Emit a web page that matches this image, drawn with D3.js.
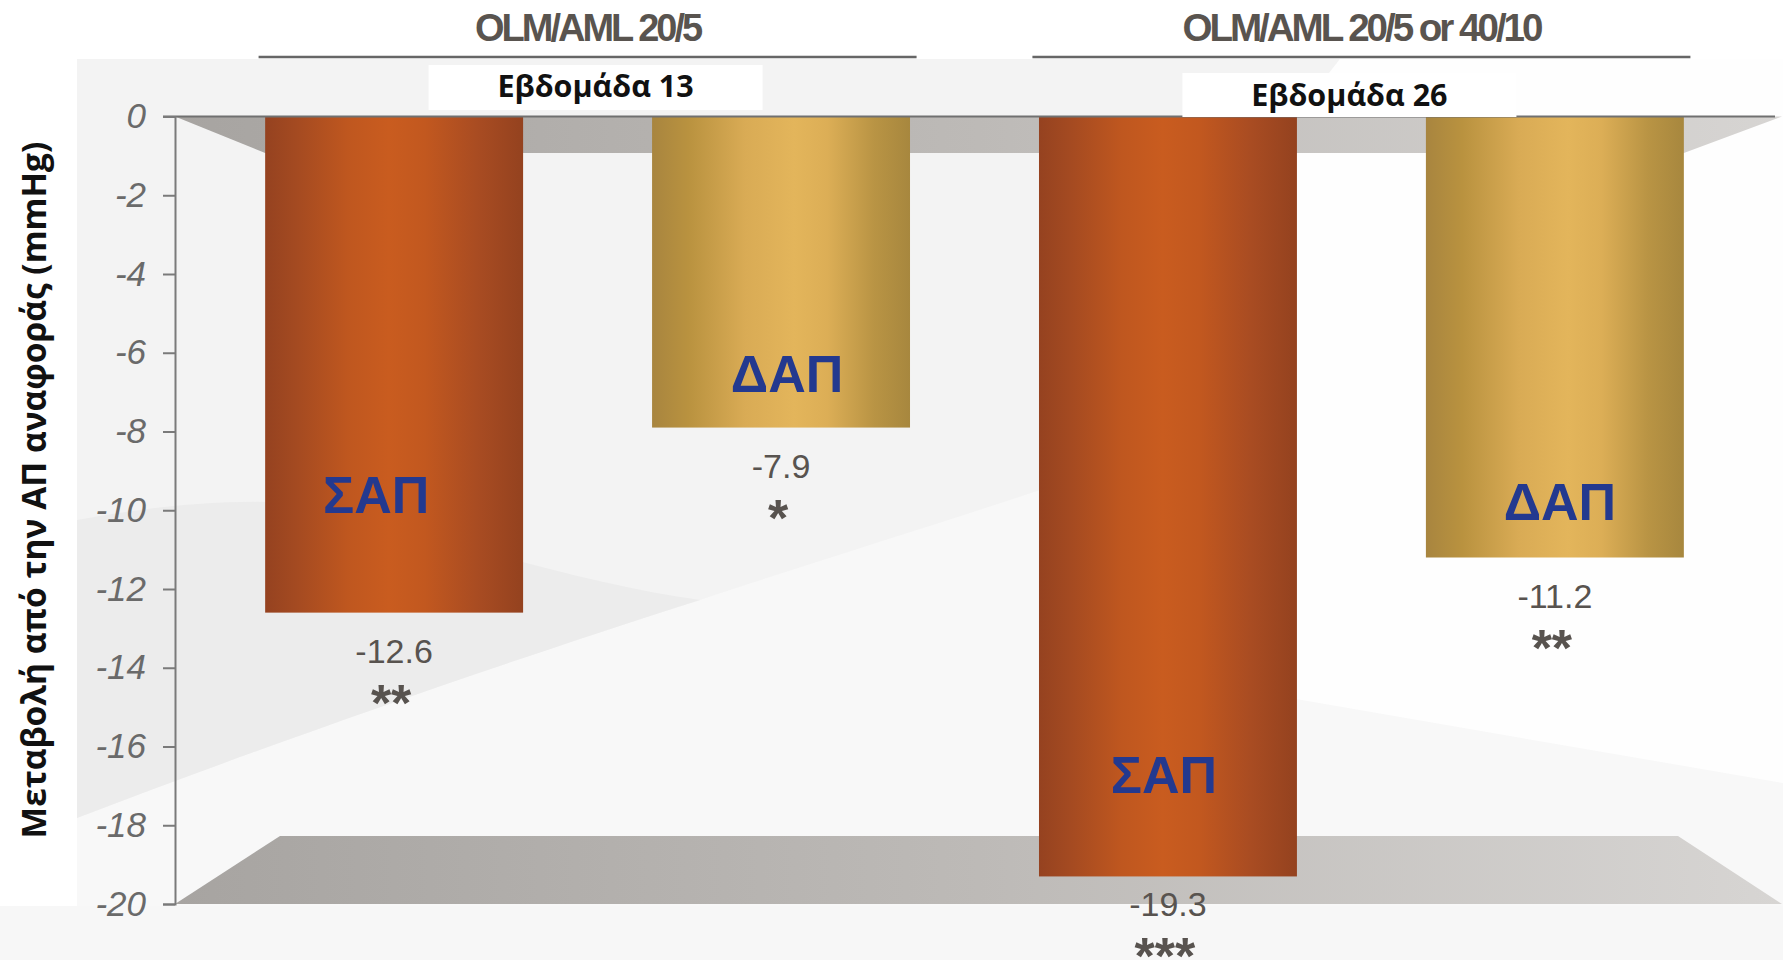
<!DOCTYPE html>
<html>
<head>
<meta charset="utf-8">
<script src="https://cdn.jsdelivr.net/npm/d3@7/dist/d3.min.js"></script>
<style>
  html, body { margin: 0; padding: 0; background: #ffffff; }
  svg { display: block; }
</style>
</head>
<body>
<svg id="chart" width="1783" height="960"></svg>
<script>
// ---- data ----
const groups = ["OLM/AML 20/5", "OLM/AML 20/5 or 40/10"];
const weekLabels = ["Εβδομάδα 13", "Εβδομάδα 26"];
const barIds = ["w13-sbp", "w13-dbp", "w26-sbp", "w26-dbp"];
const barGroup = [0, 0, 1, 1];
const measures = ["ΣΑΠ", "ΔΑΠ", "ΣΑΠ", "ΔΑΠ"];
const values = [-12.6, -7.9, -19.3, -11.2];
const valueLabels = ["-12.6", "-7.9", "-19.3", "-11.2"];
const significance = ["**", "*", "***", "**"];
const yTicks = [0, -2, -4, -6, -8, -10, -12, -14, -16, -18, -20];
const yTitle = "Μεταβολή από την ΑΠ αναφοράς (mmHg)";

// ---- layout ----
const W = 1783, H = 960;
const svg = d3.select("#chart");
const defs = svg.append("defs");

const y = d3.scaleLinear().domain([0, -20]).range([116.5, 904]);
const x = d3.scaleBand().domain(barIds).range([175, 1774])
  .paddingInner(1 / 3).paddingOuter(0.233);
const bw = x.bandwidth();
const axisX = 175;

// gradients
function hGrad(id, stops) {
  const g = defs.append("linearGradient").attr("id", id)
    .attr("x1", "0%").attr("x2", "100%").attr("y1", "0%").attr("y2", "0%");
  stops.forEach(([o, c]) => g.append("stop").attr("offset", o).attr("stop-color", c));
}
hGrad("gSbp", [["0%", "#954220"], ["12%", "#a44a21"], ["32%", "#bf571f"], ["48%", "#c95c1f"], ["62%", "#c2581f"], ["82%", "#a94c22"], ["100%", "#94421f"]]);
hGrad("gDbp", [["0%", "#a8853f"], ["14%", "#b9923f"], ["36%", "#d9ab55"], ["55%", "#e3b55b"], ["68%", "#dcae56"], ["86%", "#b99444"], ["100%", "#a7873e"]]);
hGrad("gPlane", [["0%", "#a7a4a1"], ["50%", "#bdbab7"], ["100%", "#d7d5d3"]]);

// ---- background panels ----
svg.append("rect").attr("x", 0).attr("y", 0).attr("width", W).attr("height", H).attr("fill", "#ffffff");
svg.append("rect").attr("x", 77).attr("y", 59).attr("width", W - 77).attr("height", H - 59).attr("fill", "#f3f3f3");

// soft diagonal sweep across the panel
svg.append("path")
  .attr("d", "M77,818 C250,752 450,680 700,600 C820,560 920,530 1040,490 L1340,59 L1783,59 L1783,906 L77,906 Z")
  .attr("fill", "#f8f8f8");
svg.append("path")
  .attr("d", "M77,520 C160,505 240,497 320,505 C420,530 560,580 700,600 C450,680 250,752 77,818 Z")
  .attr("fill", "#ececec");
svg.append("path")
  .attr("d", "M1040,655 L1040,440 L1340,59 L1783,59 L1783,783 Z")
  .attr("fill", "#fefefe");
svg.append("rect").attr("x", 0).attr("y", 906).attr("width", W).attr("height", H - 906).attr("fill", "#f7f7f7");

// ---- 3D floor and ceiling planes ----
const x0 = x(barIds[0]), x1 = x(barIds[barIds.length - 1]) + bw;
const yTop = y(0), yTopIn = 153;
const yBot = y(-20), yBotIn = 836;
svg.append("path")
  .attr("d", `M${axisX},${yTop} L${W - 1},${yTop} L${x1},${yTopIn} L${x0},${yTopIn} Z`)
  .attr("fill", "url(#gPlane)");
svg.append("path")
  .attr("d", `M${axisX},${yBot} L${axisX + 105},${yBotIn} L${W - 105},${yBotIn} L${W - 1},${yBot} Z`)
  .attr("fill", "url(#gPlane)");

// ---- bars ----
const bars = svg.append("g");
bars.selectAll("rect").data(barIds).join("rect")
  .attr("x", d => x(d))
  .attr("y", y(0))
  .attr("width", bw)
  .attr("height", (d, i) => y(values[i]) - y(0))
  .attr("fill", (d, i) => measures[i] === "ΣΑΠ" ? "url(#gSbp)" : "url(#gDbp)");

// zero line
svg.append("line")
  .attr("x1", axisX - 12).attr("x2", 1775)
  .attr("y1", yTop).attr("y2", yTop)
  .attr("stroke", "#707070").attr("stroke-width", 2);

// ---- y axis ----
const yAxis = svg.append("g").attr("transform", `translate(${axisX},0)`)
  .call(d3.axisLeft(y).tickValues(yTicks).tickSize(12).tickPadding(17).tickFormat(d3.format("d")));
yAxis.select(".domain").attr("stroke", "#7a7a7a").attr("stroke-width", 2);
yAxis.selectAll(".tick line").attr("stroke", "#7a7a7a").attr("stroke-width", 2);
yAxis.selectAll(".tick text")
  .attr("fill", "#6a6a6a")
  .attr("font-family", "'Liberation Sans', Arial, sans-serif")
  .attr("font-style", "italic")
  .attr("font-size", 35)
  .text(d => d === 0 ? "0" : String(d).replace("−", "-"));

svg.append("text")
  .attr("transform", "translate(46,490) rotate(-90)")
  .attr("text-anchor", "middle")
  .attr("font-family", "'Open Sans', sans-serif")
  .attr("font-weight", 700)
  .attr("font-size", 33.5)
  .attr("fill", "#111111")
  .text(yTitle);

// ---- group headers ----
const groupCenter = gi => {
  const ids = barIds.filter((d, i) => barGroup[i] === gi);
  return (x(ids[0]) + x(ids[ids.length - 1]) + bw) / 2;
};
const headerWidths = [225, 358];
groups.forEach((g, gi) => {
  const cx = groupCenter(gi);
  svg.append("text")
    .attr("x", cx).attr("y", 41)
    .attr("text-anchor", "middle")
    .attr("font-family", "'Liberation Sans', Arial, sans-serif")
    .attr("font-weight", 700)
    .attr("font-size", 38)
    .attr("letter-spacing", -3)
    .attr("fill", "#59544f")
    .attr("textLength", headerWidths[gi])
    .attr("lengthAdjust", "spacingAndGlyphs")
    .text(g);
  svg.append("line")
    .attr("x1", cx - 329).attr("x2", cx + 329)
    .attr("y1", 57).attr("y2", 57)
    .attr("stroke", "#666666").attr("stroke-width", 2.5);
});

// week boxes
const weekBox = [{ dx: 8, top: 65, h: 45, base: 97 }, { dx: -12, top: 73, h: 44, base: 106 }];
weekLabels.forEach((w, gi) => {
  const cx = groupCenter(gi) + weekBox[gi].dx;
  svg.append("rect")
    .attr("x", cx - 167).attr("y", weekBox[gi].top)
    .attr("width", 334).attr("height", weekBox[gi].h)
    .attr("fill", "#ffffff");
  svg.append("text")
    .attr("x", cx).attr("y", weekBox[gi].base)
    .attr("text-anchor", "middle")
    .attr("font-family", "'Open Sans', sans-serif")
    .attr("font-weight", 700)
    .attr("font-size", 30.5)
    .attr("fill", "#111111")
    .text(w);
});

// ---- labels inside bars ----
const insetFromBottom = [100, 36, 83, 38];
const insetDx = [-18, 6, -4, 5];
svg.append("g").selectAll("text").data(barIds).join("text")
  .attr("x", (d, i) => x(d) + bw / 2 + insetDx[i])
  .attr("y", (d, i) => y(values[i]) - insetFromBottom[i])
  .attr("text-anchor", "middle")
  .attr("font-family", "'Liberation Sans', Arial, sans-serif")
  .attr("font-weight", 700)
  .attr("font-size", 52)
  .attr("fill", "#23398f")
  .text((d, i) => measures[i]);

// ---- value labels and significance marks ----
const labelBase = i => Math.min(y(values[i]) + 50, 916);
svg.append("g").selectAll("text").data(barIds).join("text")
  .attr("x", d => x(d) + bw / 2)
  .attr("y", (d, i) => labelBase(i))
  .attr("text-anchor", "middle")
  .attr("font-family", "'Liberation Sans', Arial, sans-serif")
  .attr("font-size", 34)
  .attr("fill", "#58534f")
  .text((d, i) => valueLabels[i]);
svg.append("g").selectAll("text").data(barIds).join("text")
  .attr("x", d => x(d) + bw / 2 - 3)
  .attr("y", (d, i) => labelBase(i) + 58)
  .attr("text-anchor", "middle")
  .attr("font-family", "'Liberation Sans', Arial, sans-serif")
  .attr("font-weight", 700)
  .attr("font-size", 52)
  .attr("fill", "#58534f")
  .text((d, i) => significance[i]);
</script>
</body>
</html>
